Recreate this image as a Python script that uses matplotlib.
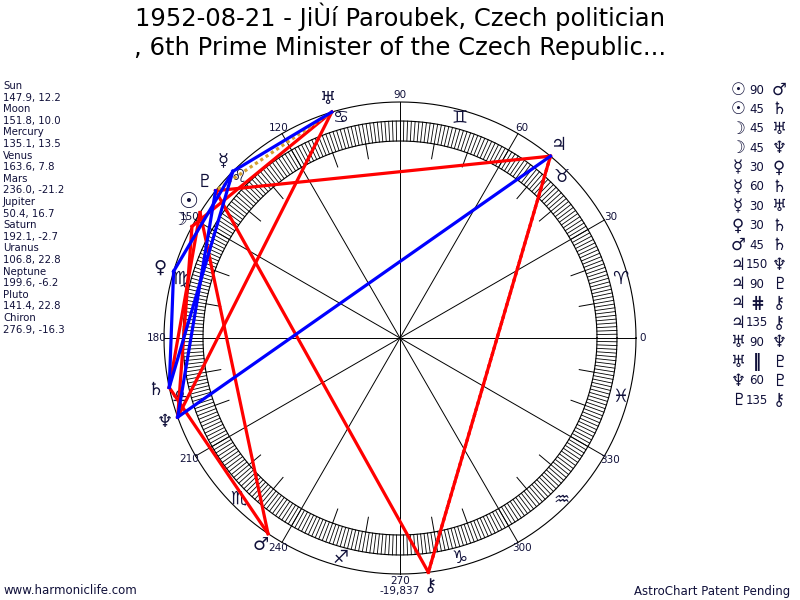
import numpy as np
import matplotlib
matplotlib.use('Agg')
import matplotlib.pyplot as plt

plt.rcParams['font.family'] = ['DejaVu Sans']

# planet data: longitude, declination
names = ['Sun', 'Moon', 'Mercury', 'Venus', 'Mars', 'Jupiter', 'Saturn',
         'Uranus', 'Neptune', 'Pluto', 'Chiron']
lon = [147.9, 151.8, 135.1, 163.6, 236.0, 50.4, 192.1, 106.8, 199.6, 141.4, 276.9]
decl = [12.2, 10.0, 13.5, 7.8, -21.2, 16.7, -2.7, 22.8, -6.2, 22.8, -16.3]
glyphs = ['☉', '☽', '☿', '♀', '♂', '♃', '♄', '♅', '♆', '♇', '⚷']

# aspects
asp_p1 = ['Sun', 'Sun', 'Moon', 'Moon', 'Mercury', 'Mercury', 'Mercury', 'Venus',
          'Mars', 'Jupiter', 'Jupiter', 'Jupiter', 'Jupiter', 'Uranus', 'Uranus',
          'Neptune', 'Pluto']
asp_type = ['90', '45', '45', '45', '30', '60', '30', '30', '45', '150', '90',
            'cpar', '135', '90', 'par', '60', '135']
asp_p2 = ['Mars', 'Saturn', 'Uranus', 'Neptune', 'Venus', 'Saturn', 'Uranus',
          'Saturn', 'Saturn', 'Neptune', 'Pluto', 'Chiron', 'Chiron', 'Neptune',
          'Pluto', 'Pluto', 'Chiron']

signs = ['♈', '♉', '♊', '♋', '♌', '♍', '♎', '♏', '♐', '♑', '♒', '♓']

title1 = '1952-08-21 - JiÙí Paroubek, Czech politician'
title2 = ', 6th Prime Minister of the Czech Republic...'

navy = '#10103a'
cx, cy = 400, 338
R_out = 236
R_band_in, R_band_out = 197, 217


def pt(deg, r):
    a = np.radians(deg)
    return cx + r * np.cos(a), cy - r * np.sin(a)


fig = plt.figure(figsize=(8, 6), dpi=100)
ax = fig.add_axes([0, 0, 1, 1])
ax.set_xlim(0, 800)
ax.set_ylim(600, 0)
ax.axis('off')

# circles
t = np.linspace(0, 360, 721)
for r in [R_out, R_band_in, R_band_out]:
    x, y = pt(t, r)
    ax.plot(x, y, color='black', lw=0.8)

# degree ticks in band
for d in range(360):
    x, y = pt(np.array([d, d]), np.array([R_band_in, R_band_out]))
    ax.plot(x, y, color='black', lw=0.6)
# 10 deg ticks
for d in range(0, 360, 10):
    if d % 30:
        x, y = pt(np.array([d, d]), np.array([182, R_band_in]))
        ax.plot(x, y, color='black', lw=0.7)
# spokes and labels
for d in range(0, 360, 30):
    x, y = pt(np.array([d, d]), np.array([0, R_out]))
    ax.plot(x, y, color='black', lw=0.7)
    lx, ly = pt(d, 243)
    ax.text(lx, ly, str(d), fontsize=7.5, color=navy, ha='center', va='center')
ax.text(cx, 591, '-19,837', fontsize=7.5, color=navy, ha='center', va='center')

# zodiac signs
for i, s in enumerate(signs):
    sx, sy = pt(i * 30 + 15, 228)
    ax.text(sx, sy, s, fontsize=13, color=navy, ha='center', va='center')

# aspect lines
idx = {n: i for i, n in enumerate(names)}
for p1, k, p2 in zip(asp_p1, asp_type, asp_p2):
    a1, a2 = lon[idx[p1]], lon[idx[p2]]
    x, y = pt(np.array([a1, a2]), np.array([R_out, R_out]))
    if k in ('30', '60', '150'):
        ax.plot(x, y, color='#0000ff', lw=2.3, zorder=4)
    elif k == 'par':
        ax.plot(x, y, color='#d4a030', lw=2.3, ls=(0, (1, 1)), zorder=3)
    elif k == 'cpar':
        ax.plot(x, y, color='#ff0000', lw=2.3, ls=(0, (1, 1)), zorder=3)
    else:
        ax.plot(x, y, color='#ff0000', lw=2.3, zorder=3)

# planet glyphs
for n, g, l in zip(names, glyphs, lon):
    gx, gy = pt(l, 250)
    if n == 'Sun':
        ax.text(gx, gy - 3, g, fontsize=16, fontweight='bold', color=navy,
                ha='center', va='center', zorder=5)
    else:
        ax.text(gx, gy, g, fontsize=13, color=navy, ha='center', va='center',
                zorder=5)

# title
ax.text(400, 17, title1, fontsize=17.5, ha='center', va='center', color='black')
ax.text(400, 48, title2, fontsize=17.5, ha='center', va='center', color='black')

# left list
y0 = 86
for i, (n, l, d) in enumerate(zip(names, lon, decl)):
    ax.text(3, y0 + 23.2 * i, n, fontsize=7.3, color=navy, va='center')
    ax.text(3, y0 + 23.2 * i + 11.6, f'{l:.1f}, {d:.1f}', fontsize=7.3,
            color=navy, va='center')

# right aspect list
sym = {'par': '‖', 'cpar': '⋕'}
for i, (p1, k, p2) in enumerate(zip(asp_p1, asp_type, asp_p2)):
    yy = 90 + 19.4 * i
    ax.text(738, yy, glyphs[idx[p1]], fontsize=12, color=navy, ha='center',
            va='center', fontweight='bold' if p1 == 'Sun' else 'normal')
    if k in sym:
        ax.text(757, yy, sym[k], fontsize=12, fontweight='bold', color=navy,
                ha='center', va='center')
    else:
        ax.text(757, yy, k, fontsize=8.5, color=navy, ha='center', va='center')
    ax.text(779, yy, glyphs[idx[p2]], fontsize=12, color=navy, ha='center',
            va='center')

# footer
ax.text(3, 591, 'www.harmoniclife.com', fontsize=8.5, color=navy, va='center')
ax.text(790, 591, 'AstroChart Patent Pending', fontsize=8.5, color=navy,
        va='center', ha='right')

fig.savefig('out.png', dpi=100)
